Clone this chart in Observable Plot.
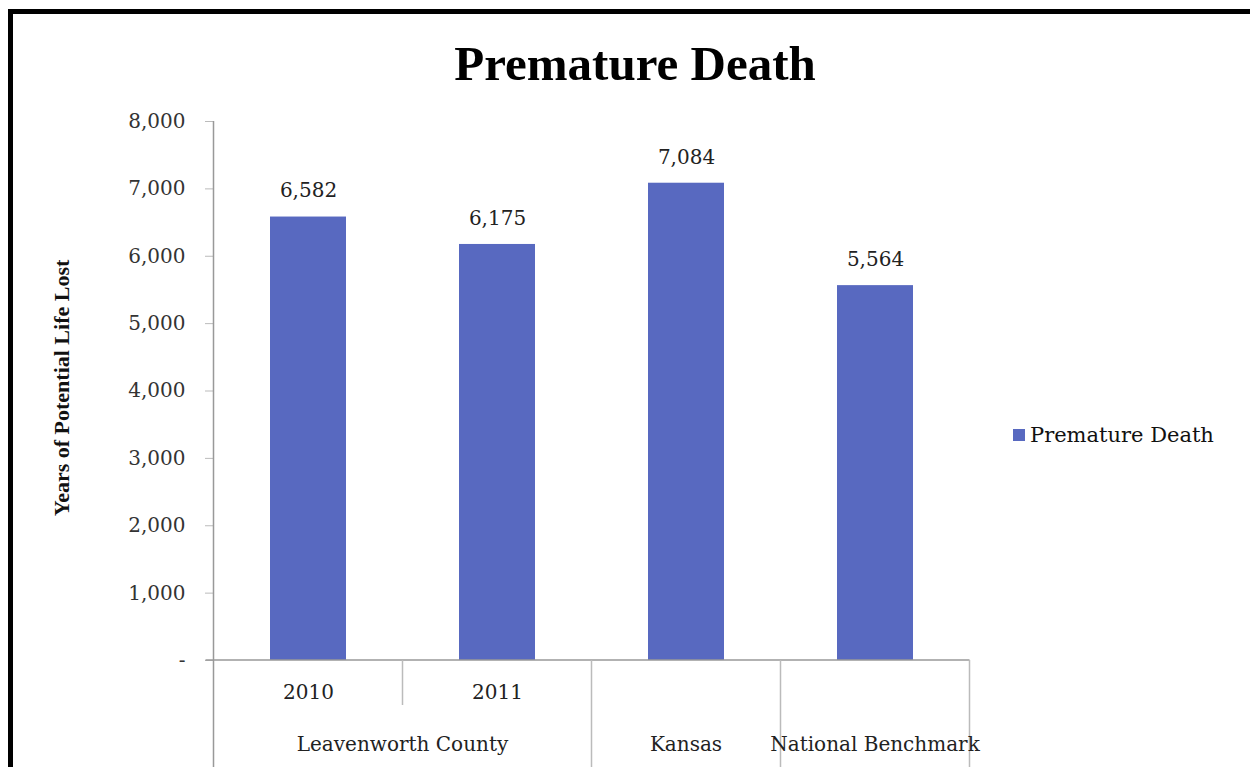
<!DOCTYPE html>
<html><head><meta charset="utf-8">
<script src="https://cdn.jsdelivr.net/npm/d3@7"></script>
<script src="https://cdn.jsdelivr.net/npm/@observablehq/plot@0.6"></script>
<style>
body{margin:0;background:#fff;}
#wrap{position:relative;width:1250px;height:767px;overflow:hidden;background:#fff;}
#border{position:absolute;left:8px;top:9px;width:1300px;height:800px;border-left:5px solid #000;border-top:5px solid #000;box-sizing:border-box;pointer-events:none;}
#title{position:absolute;left:10px;width:1250px;top:35px;line-height:48px;text-align:center;font:bold 49px "Liberation Serif",serif;color:#000;}
#ylabel{position:absolute;left:-138px;top:375px;width:400px;line-height:30px;text-align:center;font:bold 22px "Liberation Serif",serif;color:#111;transform:rotate(-90deg);}
#legend{position:absolute;left:1013px;top:423px;font:21px "DejaVu Serif",serif;color:#111;display:flex;align-items:center;white-space:nowrap;}
#legend span.sw{display:inline-block;width:12px;height:12px;background:#5869c0;margin-right:5px;}
#chart{position:absolute;left:0;top:0;}
</style></head>
<body>
<div id="wrap">
  <div id="chart"></div>
  <div id="title">Premature Death</div>
  <div id="ylabel">Years of Potential Life Lost</div>
  <div id="legend"><span class="sw"></span><span>Premature Death</span></div>
  <div id="border"></div>
</div>
<script>
const keys = ["2010", "2011", "Kansas", "National Benchmark"];
const values = [6582, 6175, 7084, 5564];
const yearLabels = ["2010", "2011", "", ""];
const groupLabels = ["Leavenworth County", "Kansas", "National Benchmark"];
const groupMembers = [["2010", "2011"], ["Kansas"], ["National Benchmark"]];
const yTicks = [0, 1000, 2000, 3000, 4000, 5000, 6000, 7000, 8000];

const data = keys.map((k, i) => ({key: k, value: values[i], year: yearLabels[i]}));
const fmt = d3.format(",");
const barColor = "#5869c0";

const plot = Plot.plot({
  width: 1250, height: 767,
  marginLeft: 213, marginRight: 281, marginTop: 121, marginBottom: 107,
  style: {fontFamily: "'DejaVu Serif', serif", fontSize: "20px", color: "#333", background: "transparent", overflow: "visible"},
  x: {domain: keys, paddingInner: 0.6, paddingOuter: 0.3, axis: null},
  y: {domain: [0, 8000], axis: null},
  marks: [
    Plot.barY(data, {x: "key", y: "value", fill: barColor}),
    Plot.text(data, {x: "key", y: "value", text: d => fmt(d.value), dy: -26, fill: "#222", fontSize: 20}),
    Plot.axisY({ticks: yTicks, tickFormat: d => d === 0 ? "-" : fmt(d), tickSize: 8, tickPadding: 20, stroke: "#bbb", fill: "#333", label: null, fontSize: 20}),
    Plot.text(data.filter(d => d.year), {x: "key", y: d => 0, text: "year", dy: 32, fill: "#222", fontSize: 20})
  ]
});
document.getElementById("chart").appendChild(plot);

const xs = plot.scale("x"), ys = plot.scale("y");
const half = (xs.step - xs.bandwidth) / 2;
const left = k => xs.apply(k) - half;
const right = k => xs.apply(k) + xs.bandwidth + half;
const y0 = ys.apply(0), yTop = ys.apply(8000), H = 767;
const svg = d3.select(plot);
const g = svg.append("g").attr("stroke", "#999").attr("stroke-width", 1.5);
g.append("line").attr("x1", left(keys[0])).attr("x2", left(keys[0])).attr("y1", yTop).attr("y2", H);
g.append("line").attr("x1", left(keys[0]) - 8).attr("x2", right(keys[keys.length - 1])).attr("y1", y0).attr("y2", y0);
g.append("line").attr("x1", left(keys[1])).attr("x2", left(keys[1])).attr("y1", y0).attr("y2", y0 + 45).attr("stroke", "#bbb");
groupMembers.forEach(m => {
  const r = right(m[m.length - 1]);
  g.append("line").attr("x1", r).attr("x2", r).attr("y1", y0).attr("y2", H).attr("stroke", "#bbb");
});
groupMembers.forEach((m, i) => {
  const cx = (left(m[0]) + right(m[m.length - 1])) / 2;
  svg.append("text").attr("x", cx).attr("y", y0 + 85).attr("dy", "0.32em")
    .attr("text-anchor", "middle").attr("fill", "#222")
    .attr("font-family", "'DejaVu Serif', serif").attr("font-size", 20)
    .text(groupLabels[i]);
});
</script>
</body></html>
